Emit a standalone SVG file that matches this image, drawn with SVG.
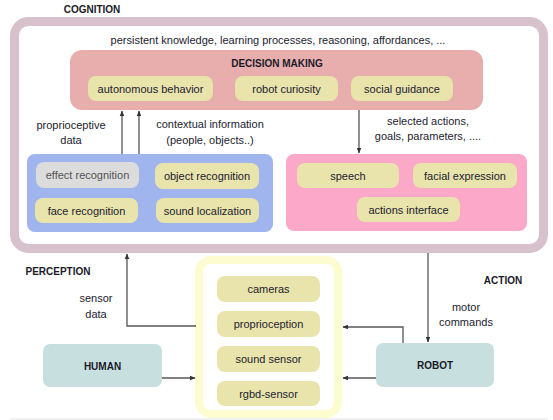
<svg xmlns="http://www.w3.org/2000/svg" width="553" height="420" viewBox="0 0 553 420">
<defs>
<style>
text{font-family:"Liberation Sans",Arial,sans-serif;fill:#222230}
.t{font-size:11px;text-anchor:middle}
.b{font-size:10px;font-weight:bold;text-anchor:middle;fill:#1a1a28}
.item{fill:#e8e4ac}
.conn{stroke:#555;stroke-width:1.3;fill:none}
</style>
<marker id="ah" viewBox="0 0 10 10" refX="9" refY="5" markerWidth="6" markerHeight="6" orient="auto" markerUnits="userSpaceOnUse">
<path d="M0,1 L10,5 L0,9 z" fill="#333"/>
</marker>
</defs>
<rect width="553" height="420" fill="#fff"/>
<line x1="10" y1="419" x2="548" y2="419" stroke="#e2e2e2" stroke-width="1"/>

<g id="cognition">
<rect x="14.5" y="21.5" width="529" height="227" rx="14" fill="#fff" stroke="#d6c1cd" stroke-width="9"/>
<text class="b" x="92" y="13">COGNITION</text>
<text class="t" x="278" y="44">persistent knowledge, learning processes, reasoning, affordances, ...</text>
</g>

<g id="decision-making">
<rect x="70" y="50" width="413" height="60" rx="12" fill="#e8aeae"/>
<text class="b" x="277" y="67">DECISION MAKING</text>
</g>
<g id="autonomous-behavior"><rect class="item" x="88" y="76" width="125" height="25" rx="8"/><text class="t" x="150.5" y="92.5">autonomous behavior</text></g>
<g id="robot-curiosity"><rect class="item" x="235" y="76" width="103" height="25" rx="8"/><text class="t" x="286.5" y="92.5">robot curiosity</text></g>
<g id="social-guidance"><rect class="item" x="351" y="76" width="102" height="25" rx="8"/><text class="t" x="402" y="92.5">social guidance</text></g>

<g id="perception">
<rect x="27" y="154" width="246" height="78" rx="8" fill="#a0b4ee"/>
<text class="b" x="58" y="275">PERCEPTION</text>
</g>
<g id="effect-recognition"><rect x="36" y="162" width="103" height="26" rx="8" fill="#dcdcdc"/><text class="t" x="87.5" y="178.5" style="fill:#555">effect recognition</text></g>
<g id="object-recognition"><rect class="item" x="155" y="163" width="104" height="26" rx="8"/><text class="t" x="207" y="179.5">object recognition</text></g>
<g id="face-recognition"><rect class="item" x="35" y="198" width="103" height="25" rx="8"/><text class="t" x="86.5" y="214.5">face recognition</text></g>
<g id="sound-localization"><rect class="item" x="156" y="198" width="103" height="25" rx="8"/><text class="t" x="207.5" y="214.5">sound localization</text></g>

<g id="action">
<rect x="286" y="154" width="241" height="77" rx="8" fill="#fca8c8"/>
<text class="b" x="503" y="284">ACTION</text>
</g>
<g id="speech"><rect class="item" x="297" y="163" width="102" height="25" rx="8"/><text class="t" x="348" y="179.5">speech</text></g>
<g id="facial-expression"><rect class="item" x="413" y="163" width="104" height="25" rx="8"/><text class="t" x="465" y="179.5">facial expression</text></g>
<g id="actions-interface"><rect class="item" x="357" y="197" width="103" height="25" rx="8"/><text class="t" x="408.5" y="213.5">actions interface</text></g>

<g id="sensors">
<rect x="199" y="260" width="139" height="154" rx="12" fill="#fff" stroke="#fdfcd0" stroke-width="8"/>
</g>
<g id="cameras"><rect class="item" x="217" y="276" width="103" height="26" rx="8"/><text class="t" x="268.5" y="292.5">cameras</text></g>
<g id="proprioception"><rect class="item" x="217" y="311" width="103" height="26" rx="8"/><text class="t" x="268.5" y="327.5">proprioception</text></g>
<g id="sound-sensor"><rect class="item" x="217" y="346" width="103" height="26" rx="8"/><text class="t" x="268.5" y="362.5">sound sensor</text></g>
<g id="rgbd-sensor"><rect class="item" x="217" y="381" width="103" height="25" rx="8"/><text class="t" x="268.5" y="397.5">rgbd-sensor</text></g>

<g id="human"><rect x="43" y="344" width="119" height="43" rx="7" fill="#c8dfe0"/><text class="b" x="102.5" y="369.5">HUMAN</text></g>
<g id="robot"><rect x="376" y="343" width="118" height="44" rx="7" fill="#c8dfe0"/><text class="b" x="435" y="369">ROBOT</text></g>

<g id="connectors">
<line class="conn" x1="122" y1="154" x2="122" y2="111" marker-end="url(#ah)"/>
<line class="conn" x1="139" y1="154" x2="139" y2="111" marker-end="url(#ah)"/>
<line class="conn" x1="359" y1="110" x2="359" y2="153" marker-end="url(#ah)"/>
<polyline class="conn" points="196,326 127,326 127,254" marker-end="url(#ah)"/>
<line class="conn" x1="428" y1="253" x2="428" y2="342" marker-end="url(#ah)"/>
<line class="conn" x1="162" y1="378" x2="195" y2="378" marker-end="url(#ah)"/>
<polyline class="conn" points="403,343 403,327 343,327" marker-end="url(#ah)"/>
<line class="conn" x1="376" y1="378" x2="343" y2="378" marker-end="url(#ah)"/>
<text class="t" x="71" y="129">proprioceptive</text>
<text class="t" x="71" y="144">data</text>
<text class="t" x="210" y="128">contextual information</text>
<text class="t" x="210" y="144">(people, objects..)</text>
<text class="t" x="428" y="125">selected actions,</text>
<text class="t" x="428" y="140">goals, parameters, ....</text>
<text class="t" x="96" y="302">sensor</text>
<text class="t" x="96" y="318">data</text>
<text class="t" x="466" y="311">motor</text>
<text class="t" x="466" y="326">commands</text>
</g>
</svg>
